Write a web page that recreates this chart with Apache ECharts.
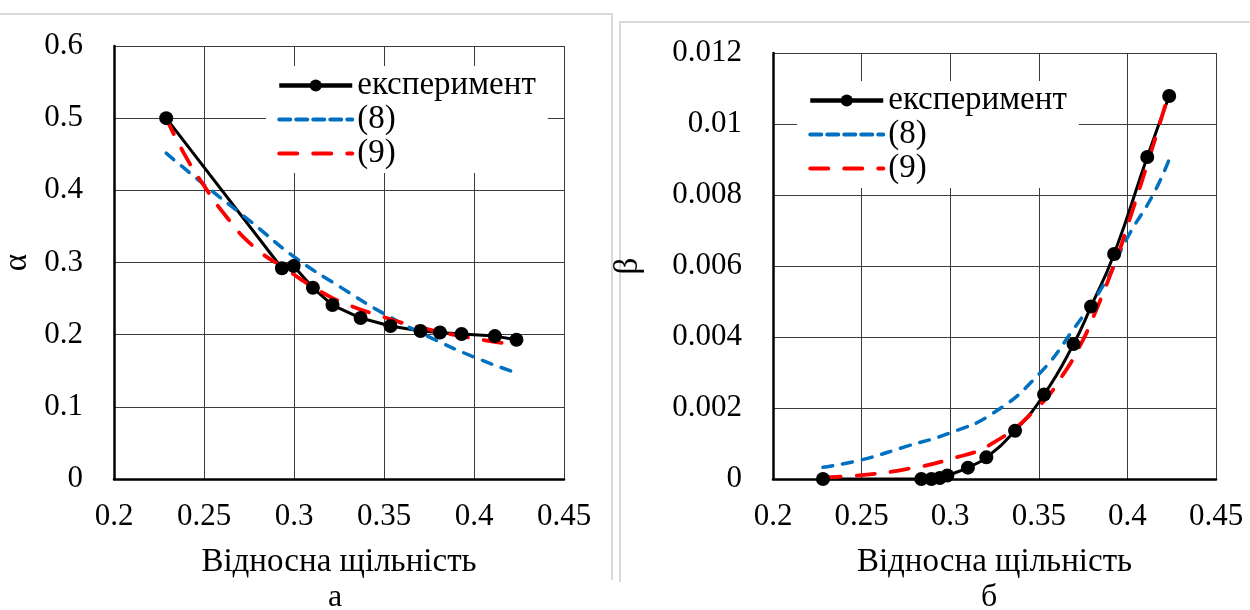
<!DOCTYPE html>
<html>
<head>
<meta charset="utf-8">
<script src="https://cdn.jsdelivr.net/npm/echarts@6/dist/echarts.min.js"></script>
<style>
  html, body { margin: 0; padding: 0; background: #fff; }
  #chart { width: 1250px; height: 610px; }
</style>
</head>
<body>
<div id="chart"></div>
<script>
// left panel (а): alpha vs relative density
const alphaExpX = [0.229, 0.2933, 0.2998, 0.3105, 0.3214, 0.3370, 0.3536, 0.3703, 0.3811, 0.3931, 0.4116, 0.4236];
const alphaExpY = [0.500, 0.292, 0.295, 0.265, 0.241, 0.223, 0.212, 0.205, 0.203, 0.201, 0.198, 0.193];
const alpha8X = [0.229, 0.25, 0.2758, 0.3, 0.3257, 0.35, 0.375, 0.4, 0.4236];
const alpha8Y = [0.4515, 0.408, 0.357, 0.308, 0.266, 0.229, 0.197, 0.169, 0.147];
const alpha9X = [0.229, 0.2388, 0.2497, 0.2629, 0.2776, 0.296, 0.3146, 0.3275, 0.35, 0.3718, 0.394, 0.4162];
const alpha9Y = [0.500, 0.4515, 0.4076, 0.362, 0.322, 0.290, 0.260, 0.244, 0.2244, 0.209, 0.1975, 0.1884];

// right panel (б): beta vs relative density
const betaExpX = [0.2282, 0.2837, 0.2894, 0.2941, 0.2984, 0.3100, 0.3204, 0.3366, 0.3530, 0.3696, 0.3795, 0.3925, 0.4112, 0.4236];
const betaExpY = [0, 0, 0, 0.00003, 0.0001, 0.00032, 0.00061, 0.00136, 0.00238, 0.0038, 0.00486, 0.00634, 0.00907, 0.01079];
const beta8X = [0.2282, 0.25, 0.2753, 0.3, 0.3241, 0.35, 0.3693, 0.3881, 0.4, 0.4144, 0.4235];
const beta8Y = [0.00033, 0.00054, 0.00092, 0.0013, 0.00185, 0.00295, 0.0042, 0.0056, 0.0068, 0.0080, 0.00899];
const beta9X = [0.2282, 0.25, 0.2753, 0.3, 0.324, 0.35, 0.3637, 0.3731, 0.3806, 0.3938, 0.4, 0.4126, 0.4229];
const beta9Y = [0.00005, 0.00011, 0.00028, 0.00056, 0.00101, 0.00205, 0.00294, 0.00374, 0.00455, 0.0062, 0.00712, 0.00909, 0.01078];

const xTicks = { min: 0.2, max: 0.45, interval: 0.05 };
const seriesNames = ["експеримент", "(8)", "(9)"];
const axisTitle = "Відносна щільність";
const panelLabels = ["а", "б"];

const FONT = "Liberation Serif";
const zip = (xs, ys) => xs.map((x, i) => [x, ys[i]]);

const tickTxt = { fontFamily: FONT, fontSize: 31, color: "#000" };
const nameTxt = { fontFamily: FONT, fontSize: 33, color: "#000" };

function xAxisFor(gridIndex) {
  return {
    type: "value", gridIndex, min: xTicks.min, max: xTicks.max, interval: xTicks.interval,
    name: axisTitle, nameLocation: "middle", nameGap: 67, nameTextStyle: nameTxt,
    axisLine: { lineStyle: { color: "#000", width: 2.5 } },
    axisTick: { show: false },
    axisLabel: Object.assign({ margin: 22 }, tickTxt),
    splitLine: { lineStyle: { color: "#3c3c3c", width: 1 } }
  };
}

function yAxisFor(gridIndex, max, interval, name, gap) {
  return {
    type: "value", gridIndex, min: 0, max, interval,
    name, nameLocation: "middle", nameGap: gap, nameTextStyle: nameTxt,
    axisLine: { show: true, lineStyle: { color: "#000", width: 2.5 } },
    axisTick: { show: false },
    axisLabel: Object.assign({ margin: 31 }, tickTxt),
    splitLine: { lineStyle: { color: "#3c3c3c", width: 1 } }
  };
}

function expSeries(idx, data, smooth) {
  return {
    name: seriesNames[0], type: "line", xAxisIndex: idx, yAxisIndex: idx, data,
    smooth, symbol: "circle", symbolSize: 14,
    itemStyle: { color: "#000" }, lineStyle: { color: "#000", width: 3 }
  };
}
function blueSeries(idx, data) {
  return {
    name: seriesNames[1], type: "line", xAxisIndex: idx, yAxisIndex: idx, data,
    smooth: true, showSymbol: false, symbol: "none",
    itemStyle: { color: "#0070C0" },
    lineStyle: { color: "#0070C0", width: 3.5, type: [10, 10], cap: "round" }
  };
}
function redSeries(idx, data) {
  return {
    name: seriesNames[2], type: "line", xAxisIndex: idx, yAxisIndex: idx, data,
    smooth: true, showSymbol: false, symbol: "none",
    itemStyle: { color: "#FF0000" },
    lineStyle: { color: "#FF0000", width: 3.8, type: [18, 16], cap: "round" }
  };
}

function legendAt(left, top) {
  return {
    orient: "vertical", left, top,
    data: [
      { name: seriesNames[0], lineStyle: { width: 4.5 } },
      { name: seriesNames[1], itemStyle: { opacity: 0 }, lineStyle: { width: 4, type: [11, 6] } },
      { name: seriesNames[2], itemStyle: { opacity: 0 }, lineStyle: { width: 4, type: [18, 16] } }
    ],
    backgroundColor: "#fff", padding: [3, 12, 3, 11],
    itemWidth: 73, itemHeight: 15, itemGap: 1, itemTextGap: 6,
    textStyle: { fontFamily: FONT, fontSize: 33, color: "#000", lineHeight: 31 },
    selectedMode: false
  };
}

const chart = echarts.init(document.getElementById("chart"));
chart.setOption({
  animation: false,
  backgroundColor: "#fff",
  grid: [
    { left: 113, top: 46, width: 451, height: 433 },
    { left: 773, top: 53, width: 443, height: 426 }
  ],
  xAxis: [xAxisFor(0), xAxisFor(1)],
  yAxis: [
    yAxisFor(0, 0.6, 0.1, "α", 80),
    yAxisFor(1, 0.012, 0.002, "β", 128)
  ],
  legend: [legendAt(266, 66), legendAt(797, 81)],
  series: [
    expSeries(0, zip(alphaExpX, alphaExpY), false),
    blueSeries(0, zip(alpha8X, alpha8Y)),
    redSeries(0, zip(alpha9X, alpha9Y)),
    expSeries(1, zip(betaExpX, betaExpY), true),
    blueSeries(1, zip(beta8X, beta8Y)),
    redSeries(1, zip(beta9X, beta9Y))
  ],
  graphic: [
    { type: "polyline", shape: { points: [[0, 14], [612, 14], [612, 580]] }, style: { stroke: "#d9d9d9", lineWidth: 2, fill: null } },
    { type: "polyline", shape: { points: [[620, 582], [620, 22], [1250, 22]] }, style: { stroke: "#d9d9d9", lineWidth: 2, fill: null } },
    { type: "text", left: 328, top: 582, style: { text: panelLabels[0], font: "32px '" + FONT + "'", fill: "#000" } },
    { type: "text", left: 981, top: 582, style: { text: panelLabels[1], font: "32px '" + FONT + "'", fill: "#000" } }
  ]
});
</script>
</body>
</html>
